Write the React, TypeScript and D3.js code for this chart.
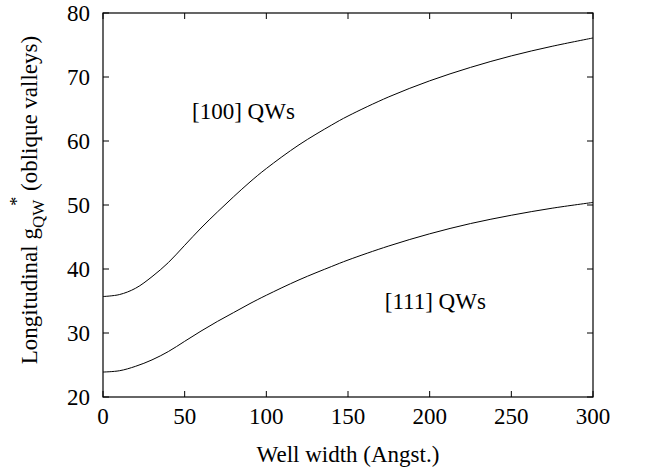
import * as d3 from "d3";

const widths = [0, 10, 20, 30, 40, 50, 60, 70, 80, 90, 100, 120, 140, 150, 175, 200, 225, 250, 275, 300];
const g100 = [35.7, 36.0, 37.0, 38.8, 41.0, 43.7, 46.4, 48.9, 51.3, 53.6, 55.7, 59.4, 62.5, 63.9, 66.9, 69.4, 71.5, 73.3, 74.8, 76.1];
const g111 = [23.9, 24.1, 24.8, 25.8, 27.1, 28.7, 30.3, 31.8, 33.2, 34.6, 35.9, 38.3, 40.4, 41.4, 43.6, 45.5, 47.1, 48.4, 49.5, 50.4];

const xTicks = [0, 50, 100, 150, 200, 250, 300];
const yTicks = [20, 30, 40, 50, 60, 70, 80];

const W = 658;
const H = 472;
const M = { left: 103, top: 13, right: 65, bottom: 75 };
const FONT = "'Liberation Serif', 'Times New Roman', Times, serif";
const FS = 23;
const TICK = 6;

const App = () => {
  const x = d3.scaleLinear().domain([0, 300]).range([M.left, W - M.right]);
  const y = d3.scaleLinear().domain([20, 80]).range([H - M.bottom, M.top]);

  const line = d3
    .line<number>()
    .x((_, i) => x(widths[i]))
    .y((d) => y(d))
    .curve(d3.curveCatmullRom.alpha(0.5));

  const [x0, x1] = x.range();
  const [y0, y1] = y.range();
  const txt = { fontFamily: FONT, fontSize: FS, fill: "#000" };

  return (
    <div style={{ position: "absolute", left: 0, top: 0 }}>
      <svg width={W} height={H} style={{ display: "block", background: "#fff" }}>
        {/* curves */}
        <path d={line(g100) as string} fill="none" stroke="#000" strokeWidth={1} />
        <path d={line(g111) as string} fill="none" stroke="#000" strokeWidth={1} />

        {/* ticks on all four sides, pointing in */}
        {xTicks.map((t) => (
          <g key={"x" + t}>
            <line x1={x(t)} x2={x(t)} y1={y0} y2={y0 - TICK} stroke="#000" />
            <line x1={x(t)} x2={x(t)} y1={y1} y2={y1 + TICK} stroke="#000" />
            <text x={x(t)} y={y0 + 27} textAnchor="middle" style={txt}>
              {t}
            </text>
          </g>
        ))}
        {yTicks.map((t) => (
          <g key={"y" + t}>
            <line x1={x0} x2={x0 + TICK} y1={y(t)} y2={y(t)} stroke="#000" />
            <line x1={x1} x2={x1 - TICK} y1={y(t)} y2={y(t)} stroke="#000" />
            <text x={x0 - 13} y={y(t)} dy="0.35em" textAnchor="end" style={txt}>
              {t}
            </text>
          </g>
        ))}

        {/* frame */}
        <rect x={x0} y={y1} width={x1 - x0} height={y0 - y1} fill="none" stroke="#000" strokeWidth={1.2} />

        {/* curve labels */}
        <text x={x(54.5)} y={y(63.4)} style={txt}>
          [100] QWs
        </text>
        <text x={x(172.5)} y={y(33.7)} style={txt}>
          [111] QWs
        </text>

        {/* axis titles */}
        <text x={(x0 + x1) / 2} y={H - 10} textAnchor="middle" style={txt}>
          Well width (Angst.)
        </text>
        <text
          transform={`translate(37, ${(y0 + y1) / 2 - 5}) rotate(-90)`}
          textAnchor="middle"
          style={txt}
        >
          Longitudinal g
          <tspan style={{ fontSize: 17 }} dy={7}>QW</tspan>
          <tspan style={{ fontSize: 18 }} dy={-21} dx={-6}>*</tspan>
          <tspan dy={14}> (oblique valleys)</tspan>
        </text>
      </svg>
    </div>
  );
};

export default App;
